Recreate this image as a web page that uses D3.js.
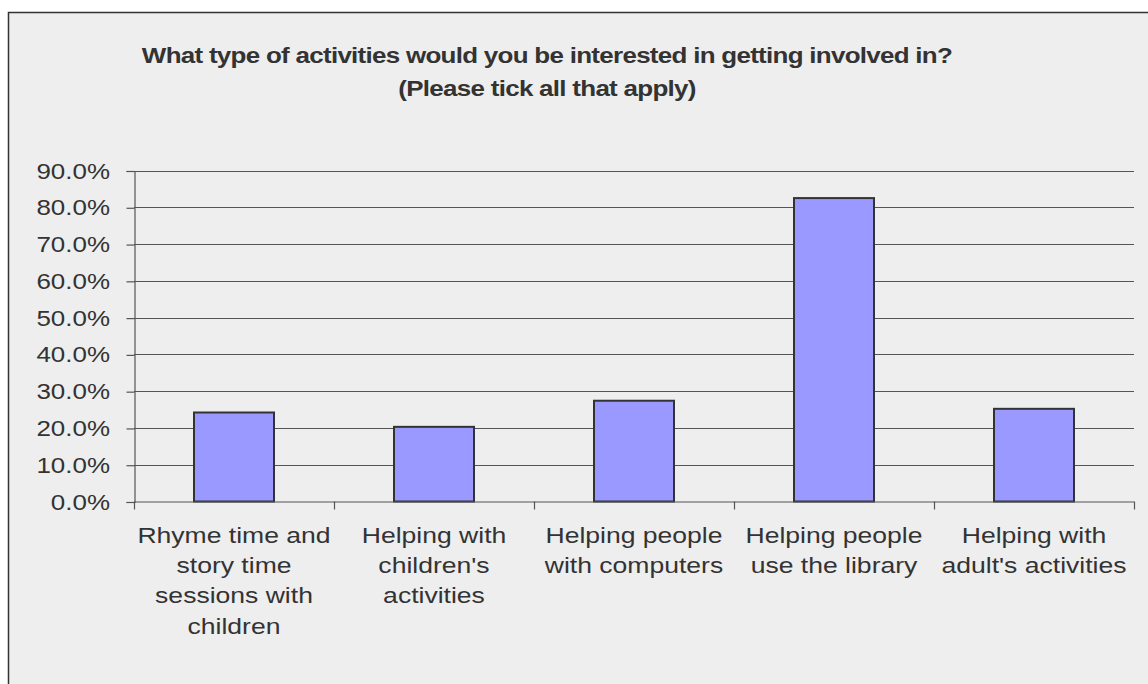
<!DOCTYPE html>
<html>
<head>
<meta charset="utf-8">
<script src="https://cdn.jsdelivr.net/npm/d3@7"></script>
<style>
  html, body { margin: 0; padding: 0; background: #ffffff; }
  svg { display: block; }
</style>
</head>
<body>
<div id="chart"></div>
<script>
// Survey responses: share of respondents interested in each activity
const categories = [
  ["Rhyme time and", "story time", "sessions with", "children"],
  ["Helping with", "children's", "activities"],
  ["Helping people", "with computers"],
  ["Helping people", "use the library"],
  ["Helping with", "adult's activities"]
];
const values = [0.242, 0.203, 0.274, 0.825, 0.252];
const yTicks = [0, 0.1, 0.2, 0.3, 0.4, 0.5, 0.6, 0.7, 0.8, 0.9];
const titleLines = [
  "What type of activities would you be interested in getting involved in?",
  "(Please tick all that apply)"
];

const W = 1148, H = 684;
const plot = { left: 134, right: 1134, top: 170.5, bottom: 501.5 };
const FONT = "Liberation Sans, Arial, sans-serif";
const WIDE = 1.18; // horizontal stretch of the lettering

const svg = d3.select("#chart").append("svg")
  .attr("width", W).attr("height", H);

// chart panel
svg.append("rect")
  .attr("x", 8.5).attr("y", 12.5)
  .attr("width", W).attr("height", H)
  .attr("fill", "#eeeeee")
  .attr("stroke", "#333333").attr("stroke-width", 1.5);

// title
svg.append("g").selectAll("text")
  .data(titleLines).join("text")
  .attr("transform", (d, i) => `translate(547,${63 + i * 32.5}) scale(${WIDE},1)`)
  .attr("text-anchor", "middle")
  .attr("font-family", FONT)
  .attr("font-weight", "bold")
  .attr("font-size", 22)
  .attr("letter-spacing", -0.6)
  .attr("fill", "#333333")
  .text(d => d);

const x = d3.scaleBand()
  .domain(d3.range(values.length))
  .range([plot.left, plot.right])
  .paddingInner(0.6).paddingOuter(0.3);

const y = d3.scaleLinear().domain([0, 0.9]).range([plot.bottom, plot.top]);

// horizontal gridlines
svg.append("g").selectAll("line")
  .data(yTicks.filter(d => d > 0)).join("line")
  .attr("x1", plot.left).attr("x2", plot.right)
  .attr("y1", d => Math.round(y(d)) + 0.5)
  .attr("y2", d => Math.round(y(d)) + 0.5)
  .attr("stroke", "#555555").attr("stroke-width", 1.2);

// bars
svg.append("g").selectAll("rect")
  .data(values).join("rect")
  .attr("x", (d, i) => x(i))
  .attr("y", d => y(d))
  .attr("width", x.bandwidth())
  .attr("height", d => y(0) - y(d))
  .attr("fill", "#9999ff")
  .attr("stroke", "#333333").attr("stroke-width", 2);

// y axis
const yAxis = d3.axisLeft(y)
  .tickValues(yTicks)
  .tickFormat(d3.format(".1%"))
  .tickSize(8).tickPadding(14);
const gy = svg.append("g")
  .attr("transform", `translate(${plot.left + 0.5},0.5)`)
  .call(yAxis);
gy.select(".domain").attr("stroke", "#555555").attr("stroke-width", 1.2);
gy.selectAll(".tick line").attr("stroke", "#555555").attr("stroke-width", 1.2);
gy.selectAll(".tick text")
  .attr("x", 0)
  .attr("transform", `translate(-24.5,0) scale(${WIDE},1)`)
  .attr("font-family", FONT)
  .attr("font-size", 22)
  .attr("fill", "#333333");

// x axis: category boundary ticks
const bounds = d3.range(values.length + 1).map(i => plot.left + i * x.step());
const gx = svg.append("g");
gx.append("line")
  .attr("x1", plot.left).attr("x2", plot.right)
  .attr("y1", plot.bottom + 0.5).attr("y2", plot.bottom + 0.5)
  .attr("stroke", "#555555").attr("stroke-width", 1.2);
gx.selectAll("line.tick")
  .data(bounds).join("line").attr("class", "tick")
  .attr("x1", d => Math.round(d) + 0.5).attr("x2", d => Math.round(d) + 0.5)
  .attr("y1", plot.bottom).attr("y2", plot.bottom + 8)
  .attr("stroke", "#555555").attr("stroke-width", 1.2);

// category labels
const labels = svg.append("g").selectAll("text")
  .data(categories).join("text")
  .attr("transform", (d, i) => `translate(${x(i) + x.bandwidth() / 2},542.5) scale(${WIDE},1)`)
  .attr("text-anchor", "middle")
  .attr("font-family", FONT)
  .attr("font-size", 22.5)
  .attr("fill", "#333333");
labels.selectAll("tspan")
  .data(d => d).join("tspan")
  .attr("x", 0)
  .attr("dy", (d, i) => i === 0 ? 0 : 30.5)
  .text(d => d);
</script>
</body>
</html>
